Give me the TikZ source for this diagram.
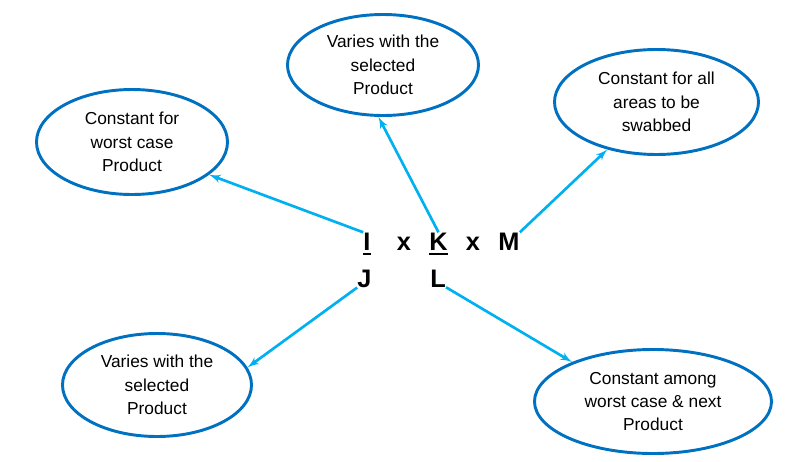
\documentclass[tikz,border=0pt]{standalone}
\usepackage{fontspec}
\setmainfont{Liberation Sans}
\usetikzlibrary{shapes,arrows}
\definecolor{ringblue}{HTML}{0070C0}
\definecolor{arrowblue}{HTML}{00B0F0}
\newcommand{\barunder}[1]{\setbox0\hbox{#1}\rlap{\rule[-3.75pt]{\wd0}{1.5pt}}\box0}

\begin{document}
\begin{tikzpicture}[x=0.75pt,y=-0.75pt]
\tikzset{
bubble/.style={ellipse,draw=ringblue,line width=2.2pt,inner sep=0pt,align=center,
font=\fontsize{13}{17.5}\selectfont},
letter/.style={inner sep=0pt,anchor=base,font=\fontsize{19}{22}\selectfont\bfseries},
myarrow/.style={->, >=latex', draw=arrowblue, line width=2pt},
}
\useasboundingbox (0,0) rectangle (786,461);

\node [bubble, minimum width=143.25pt, minimum height=78.75pt] (worst) at (132,142) {Constant for\\worst case\\Product};
\node [bubble, minimum width=143.25pt, minimum height=75.75pt] (prodtop) at (383,65) {Varies with the\\selected\\Product};
\node [bubble, minimum width=153pt, minimum height=78.75pt] (areas) at (656.5,102) {Constant for all\\areas to be\\swabbed};
\node [bubble, minimum width=141.75pt, minimum height=77.25pt] (prodbot) at (157,385) {Varies with the\\selected\\Product};
\node [bubble, minimum width=177.75pt, minimum height=78pt] (among) at (653,401.5) {Constant among\\worst case \& next\\Product};

\node [letter] (I) at (367,250) {\barunder{I}};
\node [letter] (x1) at (404,250) {x};
\node [letter] (K) at (438.5,250) {\barunder{K}};
\node [letter] (x2) at (473,250) {x};
\node [letter] (M) at (509,250) {M};
\node [letter] (J) at (364.5,287) {J};
\node [letter] (L) at (438,287) {L};

\draw[myarrow] (I.north west) -- (worst.-23);
\draw[myarrow] (K.north) -- (prodtop.-95);
\draw[myarrow] (M.north east) -- (areas.-136);
\draw[myarrow] (J.south west) -- (prodbot.11);
\draw[myarrow] (L.south east) -- (among.154);
\end{tikzpicture}
\end{document}
